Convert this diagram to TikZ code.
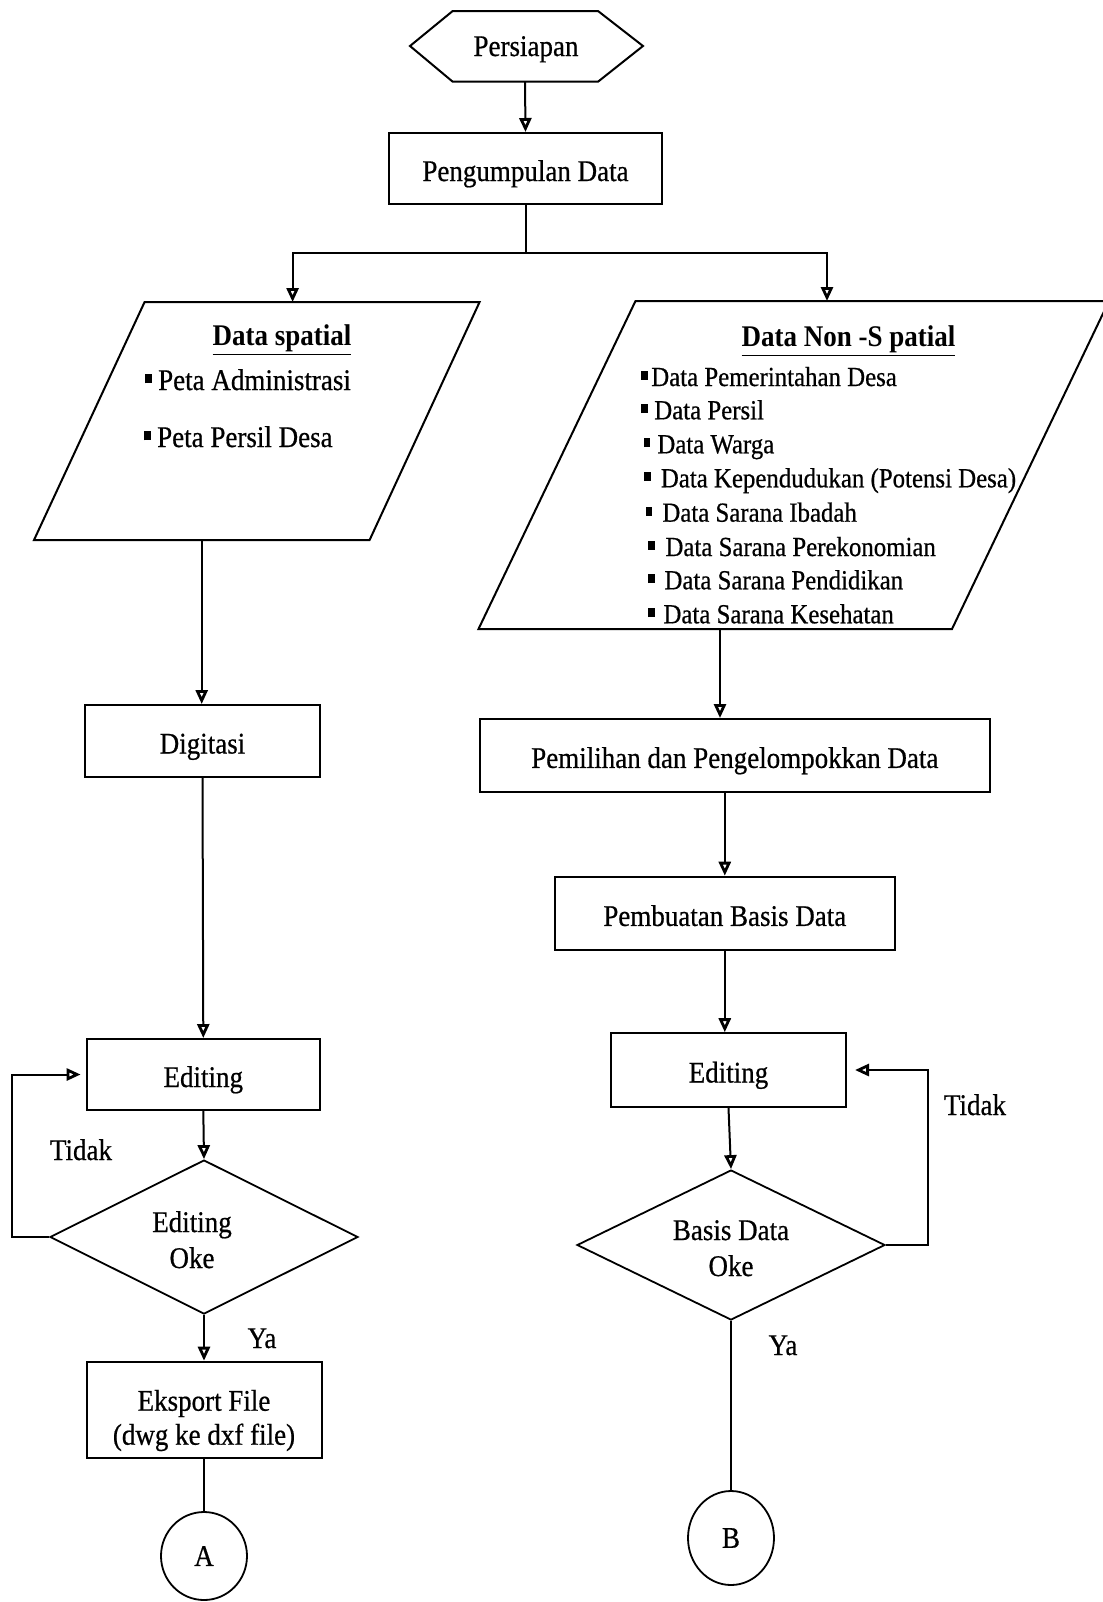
\documentclass[tikz,border=0pt]{standalone}
\usepackage{fontspec}
\setmainfont{Liberation Serif}[FakeStretch=0.9, UprightFeatures={FakeBold=0.6}]
\usetikzlibrary{arrows.meta,shapes.geometric}
\newcommand{\sqb}{\rule[0.22em]{0.25em}{0.32em}}
\newcommand{\twolines}[3][0pt]{\begin{tabular}[b]{@{}c@{\hspace{#1}}}#2\\#3\end{tabular}}

\begin{document}
\begin{tikzpicture}[
        x=0.5pt, y=-0.5pt,
        line width=1pt,
        >={Triangle[open,length=7pt,width=6pt,line width=1.4pt]},
        font=\fontsize{15}{18}\selectfont,
        process/.style={rectangle,draw,minimum width=#1,minimum height=36pt,inner sep=2pt,text height=1.25em,text depth=0pt},
        decision/.style={diamond,draw,aspect=2,line width=0.9pt,minimum width=154pt,minimum height=#1,inner sep=0pt,text height=31pt,text depth=0pt},
        terminal/.style={ellipse,draw,line width=0.9pt,minimum width=43pt,minimum height=#1,inner sep=0pt},
        flow/.style={draw,->},
        note/.style={anchor=base},
    ]
    \useasboundingbox (0,0) rectangle (1103,1602);
    % Start
    \draw (410,46) -- (452.7,11) -- (598,11) -- (643,46) -- (598,81.7) -- (452.7,81.7) -- cycle;
    \node[text height=1.2em, text depth=0pt] (persiapan) at (526,44) {Persiapan};
    \coordinate (hexbot) at (525,81.7);
    \node[process=136.5pt, minimum height=35.5pt] (kumpul) at (525.5,168.5) {Pengumpulan Data};
    \coordinate (split) at (525.5,253);

    % Input data: spatial and non-spatial
    \draw (144.6,302) -- (479.6,302) -- (369.6,540) -- (34,540) -- cycle;
    \coordinate (spatTop) at (292.6,302);
    \coordinate (spatBot) at (201.7,540);
    \node[note, font=\fontsize{15}{18}\selectfont\bfseries] (spatTitle) at (282,345) {\underline{Data spatial}};
    \foreach \y/\x/\txt [count=\i] in {
            390/137/Peta Administrasi,
            447/136/Peta Persil Desa}
        \node[anchor=base west] (spat\i) at (\x,\y) {\sqb\hspace{3pt}\txt};

    \draw (635.5,301) -- (1109,301) -- (952,629) -- (478.5,629) -- cycle;
    \coordinate (nonTop) at (827,301);
    \coordinate (nonBot) at (720,629);
    \node[note, font=\fontsize{15}{18}\selectfont\bfseries] (nonTitle) at (848.5,346.7) {\underline{Data Non -S patial}};
    \foreach \y/\x/\gap/\txt [count=\i] in {
            386/640.4/1.5/Data Pemerintahan Desa,
            419.3/640.4/3/Data Persil,
            453.3/642.5/3.5/Data Warga,
            487.3/643/5/Data Kependudukan (Potensi Desa),
            521.7/644.5/5/Data Sarana Ibadah,
            556/646.6/5.5/Data Sarana Perekonomian,
            589.3/646.6/5/Data Sarana Pendidikan,
            623.3/646.6/4.5/Data Sarana Kesehatan}
        \node[anchor=base west, inner xsep=0pt, font=\fontsize{13.8}{16}\selectfont] (non\i) at (\x,\y) {\sqb\hspace{\gap pt}\txt};

    % Left branch
    \node[process=117.5pt] (digit) at (202.5,741) {Digitasi};
    \node[process=116.7pt, minimum height=35.5pt] (editL) at (203.3,1074.5) {Editing};
    \node[decision=77pt] (okL) at (204,1237) {\twolines[12pt]{Editing}{Oke}};
    \node[process=117.5pt, minimum height=48pt, text height=35pt, font=\fontsize{15}{17}\selectfont] (eksport) at (204,1409.7) {\twolines{Eksport File}{(dwg ke dxf file)}};
    \node[terminal=44pt] (circA) at (204,1556) {A};
    \node[note] (tidakL) at (81,1160) {Tidak};
    \node[note] (yaL) at (262,1348) {Ya};

    % Right branch
    \node[process=255pt, minimum height=36.4pt] (pilih) at (734.8,755.4) {Pemilihan dan Pengelompokkan Data};
    \node[process=170pt, minimum height=36.7pt] (basis) at (724.8,913.4) {Pembuatan Basis Data};
    \node[process=117.5pt, minimum height=36.8pt] (editR) at (728.5,1070) {Editing};
    \node[decision=75pt] (okR) at (731,1245) {\twolines{Basis Data}{Oke}};
    \node[terminal=47pt] (circB) at (731,1538) {B};
    \node[note] (tidakR) at (975,1115) {Tidak};
    \node[note] (yaR) at (783,1355) {Ya};

    % Connectors
    \path[flow] (hexbot) -- (kumpul.north);
    \draw (kumpul.south) -- (split);
    \path[flow] (split) -| (spatTop);
    \path[flow] (split) -| (nonTop);
    \path[flow] (spatBot) -- (spatBot |- digit.north);
    \path[flow] (digit.south) -- (editL.north);
    \path[flow] (editL.south) -- (okL.north);
    \path[flow, shorten >=2.5pt] (okL.west) -- ++(-37,0) |- (editL.west);
    \path[flow] (okL.south) -- (eksport.north);
    \draw (eksport.south) -- (circA.north);
    \path[flow] (nonBot) -- (nonBot |- pilih.north);
    \path[flow] (basis.north |- pilih.south) -- (basis.north);
    \path[flow] (basis.south) -- (basis.south |- editR.north);
    \path[flow] (editR.south) -- (okR.north);
    \path[flow, shorten >=4pt] (okR.east) -- ++(42,0) |- (editR.east);
    \draw (okR.south) -- (circB.north);
\end{tikzpicture}
\end{document}
